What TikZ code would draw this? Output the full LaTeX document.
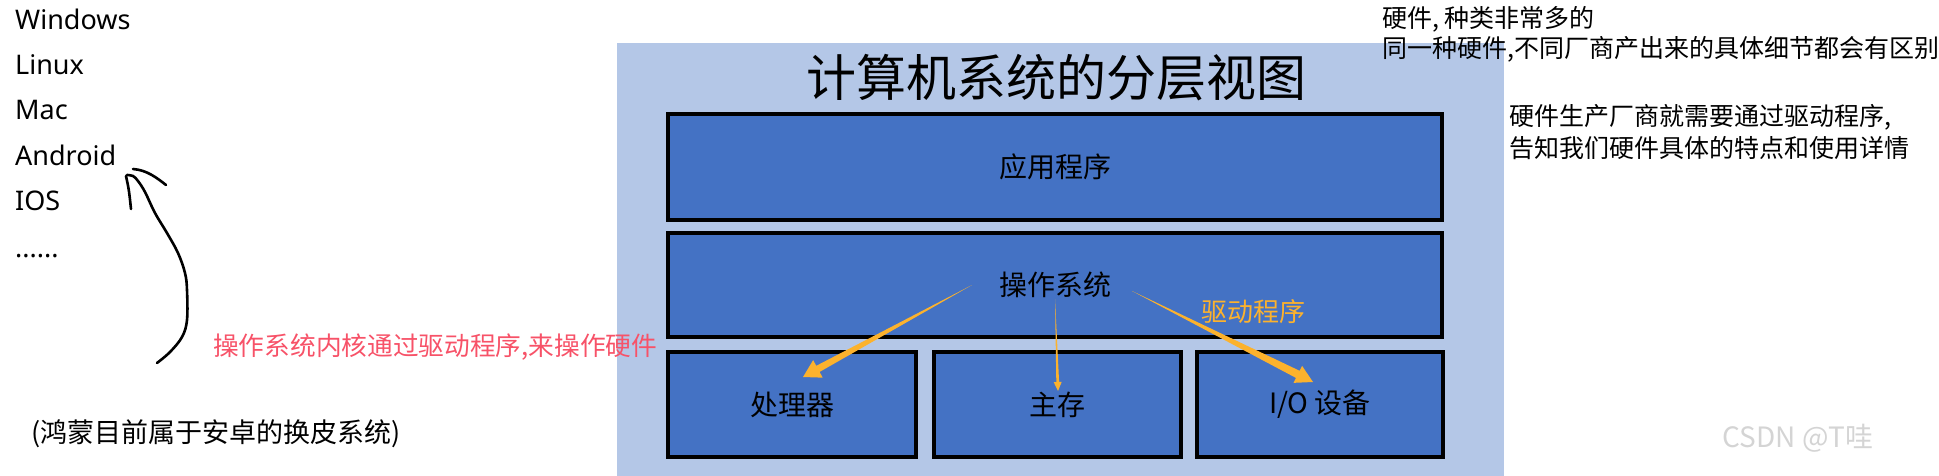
\documentclass[tikz,border=0pt]{standalone}
\usepackage{fontspec}
\setmainfont{Noto Sans CJK SC}
\newfontfamily\latinf{Noto Sans}
\usetikzlibrary{calc}
\definecolor{panelblue}{RGB}{180,199,231}
\definecolor{boxblue}{RGB}{68,114,196}
\definecolor{arroworange}{RGB}{252,178,45}
\definecolor{notered}{RGB}{247,82,104}
\definecolor{wmgray}{RGB}{212,212,212}
\newcommand\fsz[1]{\fontsize{#1pt}{#1pt}\selectfont}
% tapered arrow: from, to, shaft half width, head half width, head length
\newcommand\taperarrow[5]{%
  \path ($(#2)!#5!(#1)$) coordinate (tah);
  \fill[arroworange] (#1) -- ($(tah)!#3!90:(#2)$) -- ($(tah)!#4!90:(#2)$) -- (#2)
    -- ($(tah)!#4!-90:(#2)$) -- ($(tah)!#3!-90:(#2)$) -- cycle;}
\begin{document}
\begin{tikzpicture}[x=1pt,y=-1pt,
  layer/.style={draw=black, line width=4pt, fill=boxblue, inner sep=0pt, align=center, font=\fsz{28}},
  oslist/.style={anchor=base west, inner sep=0pt, font=\latinf\fsz{27}},
  plain/.style={anchor=base west, inner sep=0pt, font=\fsz{27}},
  sidenote/.style={anchor=base west, inner sep=0pt, font=\fsz{25}},
  handline/.style={line width=2.6pt, line cap=round, line join=round}]
\useasboundingbox (0,0) rectangle (1939,476);
% panel
\fill[panelblue] (617,43) rectangle (1504,476);
\node[inner sep=0pt, font=\fsz{50}] (title) at (1056,78) {计算机系统的分层视图};
% layers
\node[layer, minimum width=774pt, minimum height=106pt] (app) at (1055,167) {应用程序};
\node[layer, minimum width=774pt, minimum height=104pt] (os) at (1055,285) {操作系统};
\node[layer, minimum width=248pt, minimum height=105pt] (cpu) at (792,404.5) {处理器};
\node[layer, minimum width=247pt, minimum height=105pt] (mem) at (1057.5,404.5) {主存};
\node[layer, minimum width=246pt, minimum height=105pt] (io) at (1320,404.5) {I/O 设备};
% orange arrows
\coordinate (la0) at (972,285);  \coordinate (la1) at (803,377);
\coordinate (ma0) at (1055,299); \coordinate (ma1) at (1058,391);
\coordinate (ra0) at (1132,291); \coordinate (ra1) at (1313,382);
\taperarrow{la0}{la1}{3.5pt}{10pt}{17pt}
\taperarrow{ma0}{ma1}{1.4pt}{4pt}{9pt}
\taperarrow{ra0}{ra1}{4pt}{9.5pt}{17pt}
\node[inner sep=0pt, font=\fsz{26}, text=arroworange] (drv) at (1253,312) {驱动程序};
% left list
\node[oslist] (win) at (15,30) {Windows};
\node[oslist] (linux) at (15,75) {Linux};
\node[oslist] (mac) at (15,120) {Mac};
\node[oslist] (android) at (15,166) {Android};
\node[oslist] (ios) at (15,211) {IOS};
\node[oslist] (more) at (15,257) {......};
% hand-drawn arrow
\draw[handline] plot[smooth, tension=0.6] coordinates {(157,363) (170,352) (182,337) (187,320) (187,290) (185,273) (178,253) (167,233) (155,213) (145,192) (138,181) (133,176) (127,175)};
\draw[handline] (126,176) .. controls (129,190) .. (131,209);
\draw[handline] (133,169) .. controls (147,170) and (157,178) .. (166,185);
% notes
\node[plain, text=notered, font=\fsz{25.7}] (kernel) at (213,355) {操作系统内核通过驱动程序,来操作硬件};
\node[plain] (hm) at (31,442) {(鸿蒙目前属于安卓的换皮系统)};
\node[sidenote] (hw1) at (1382,27.5) {硬件, 种类非常多的};
\node[sidenote] (hw2) at (1382,57.5) {同一种硬件,不同厂商产出来的具体细节都会有区别};
\node[sidenote] (hw3) at (1509,125.5) {硬件生产厂商就需要通过驱动程序,};
\node[sidenote] (hw4) at (1509,157.5) {告知我们硬件具体的特点和使用详情};
% watermark
\node[inner sep=0pt, font=\fsz{28}, text=wmgray] (wm) at (1798,438) {CSDN @T哇};
\end{tikzpicture}
\end{document}
